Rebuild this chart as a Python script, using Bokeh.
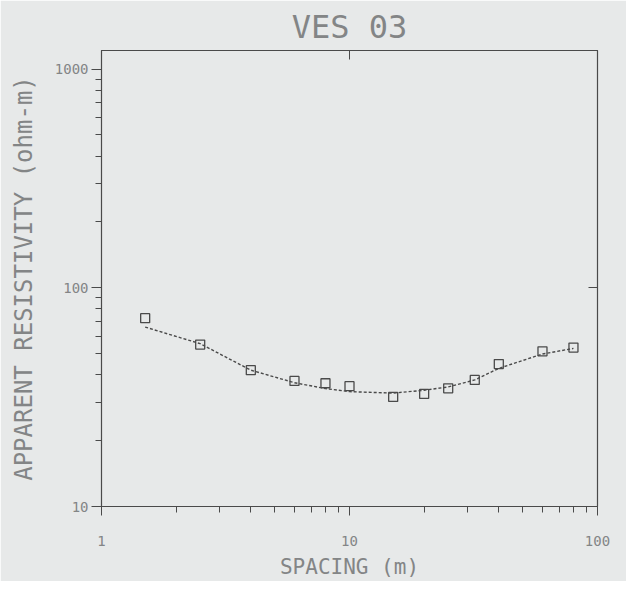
from bokeh.plotting import figure
from bokeh.models import (LogAxis, FixedTicker, PrintfTickFormatter, Range1d)
from bokeh.embed import file_html
from bokeh.resources import INLINE

# ---- data ----
title_text = "VES 03"
x_label = "SPACING (m)"
y_label = "APPARENT RESISTIVITY (ohm-m)"

spacing = [1.5, 2.5, 4, 6, 8, 10, 15, 20, 25, 32, 40, 60, 80]
rho_observed = [72.6, 55.0, 42.0, 37.5, 36.6, 35.5, 31.7, 32.7, 34.7, 37.9, 44.8, 51.2, 53.3]

model_spacing = [1.5, 2.5, 4, 6, 8, 10, 15, 20, 25, 32, 40, 60, 80]
rho_model = [66.1, 55.5, 42.0, 36.8, 34.6, 33.5, 33.0, 34.0, 35.2, 37.9, 42.8, 49.8, 52.8]

x_major = [1, 10, 100]
x_minor = [2, 3, 4, 5, 6, 7, 8, 9, 20, 30, 40, 50, 60, 70, 80, 90]
y_major = [10, 100, 1000]
y_minor = [20, 30, 40, 50, 60, 70, 80, 90, 200, 300, 400, 500, 600, 700, 800, 900]

# ---- style ----
BG = "#e7e9e9"
INK = "#4a4a4a"
TXT = "#838586"
FONT = "DejaVu Sans Mono"

p = figure(width=626, height=581, x_axis_type="log", y_axis_type="log",
           x_range=Range1d(1, 100), y_range=Range1d(10, 1215),
           output_backend="svg", toolbar_location=None,
           min_border_left=101, min_border_right=29, min_border_bottom=70,
           min_border_top=0)

p.title.text = title_text
p.title.align = "center"
p.title.text_font = FONT
p.title.text_font_style = "normal"
p.title.text_font_size = "32px"
p.title.text_color = TXT

p.background_fill_color = BG
p.border_fill_color = BG
p.outline_line_color = INK
p.outline_line_width = 1.2
p.grid.visible = False

# bottom axis
xa = p.xaxis[0]
xa.ticker = FixedTicker(ticks=x_major, minor_ticks=x_minor)
xa.formatter = PrintfTickFormatter(format="%d")
xa.axis_label = x_label
xa.major_tick_in = 0
xa.major_tick_out = 9
xa.minor_tick_in = 0
xa.minor_tick_out = 6
xa.major_label_standoff = 20
xa.axis_label_standoff = 6

# left axis
ya = p.yaxis[0]
ya.ticker = FixedTicker(ticks=y_major, minor_ticks=y_minor)
ya.formatter = PrintfTickFormatter(format="%d")
ya.axis_label = y_label
ya.major_tick_in = 0
ya.major_tick_out = 10
ya.minor_tick_in = 0
ya.minor_tick_out = 6
ya.major_label_standoff = 3
ya.axis_label_standoff = 14

for ax in [xa, ya]:
    ax.axis_line_color = INK
    ax.major_tick_line_color = INK
    ax.minor_tick_line_color = INK
    ax.major_label_text_font = FONT
    ax.major_label_text_font_size = "14px"
    ax.major_label_text_color = TXT
    ax.axis_label_text_font = FONT
    ax.axis_label_text_font_style = "normal"
    ax.axis_label_text_color = TXT
ya.axis_label_text_font_size = "24px"
xa.axis_label_text_font_size = "21px"

# top and right axes with inward ticks only, no labels
top = LogAxis(ticker=FixedTicker(ticks=[10], minor_ticks=[]),
              major_label_text_color=None,
              major_tick_in=9, major_tick_out=0, minor_tick_in=0, minor_tick_out=0,
              axis_line_color=INK, major_tick_line_color=INK, minor_tick_line_color=None)
right = LogAxis(ticker=FixedTicker(ticks=[100], minor_ticks=[]),
                major_label_text_color=None,
                major_tick_in=9, major_tick_out=0, minor_tick_in=0, minor_tick_out=0,
                axis_line_color=INK, major_tick_line_color=INK, minor_tick_line_color=None)
p.add_layout(top, "above")
p.add_layout(right, "right")

# model curve and observed points
p.line(model_spacing, rho_model, line_color=INK, line_width=1.4, line_dash="3 2")
p.scatter(spacing, rho_observed, marker="square", size=9,
          fill_color=None, line_color=INK, line_width=1.3)

open("out.html", "w").write(file_html(p, INLINE))
